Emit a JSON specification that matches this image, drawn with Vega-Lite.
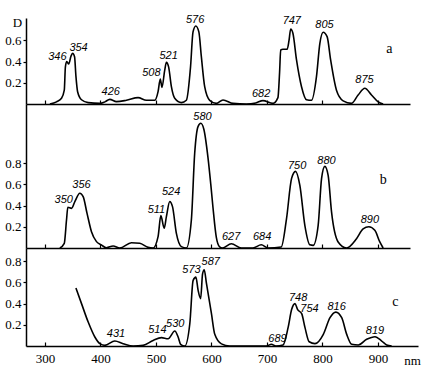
{
  "$schema": "https://vega.github.io/schema/vega-lite/v6.json",
  "autosize": {"type": "pad"},
  "padding": {"left": 4, "top": 14, "right": 5, "bottom": 5},
  "background": "white",
  "spacing": 0,
  "bounds": "flush",
  "config": {
    "view": {"stroke": null},
    "axis": {
      "labelFont": "Liberation Serif", "labelFontSize": 13, "labelColor": "black",
      "titleFont": "Liberation Serif", "titleFontSize": 13, "titleFontWeight": "normal", "titleColor": "black",
      "domainColor": "black", "domainWidth": 1.5, "tickColor": "black", "tickWidth": 1.2, "grid": false
    }
  },
  "datasets": {
    "spectra": [
      {"panel": "a", "nm": 309, "D": 0}, {"panel": "a", "nm": 321, "D": 0.02}, {"panel": "a", "nm": 330, "D": 0.054},
      {"panel": "a", "nm": 335, "D": 0.13}, {"panel": "a", "nm": 337, "D": 0.35}, {"panel": "a", "nm": 339.5, "D": 0.40},
      {"panel": "a", "nm": 343, "D": 0.377}, {"panel": "a", "nm": 347, "D": 0.45}, {"panel": "a", "nm": 350, "D": 0.478},
      {"panel": "a", "nm": 353.5, "D": 0.446}, {"panel": "a", "nm": 356, "D": 0.26}, {"panel": "a", "nm": 359, "D": 0.116},
      {"panel": "a", "nm": 366, "D": 0.04}, {"panel": "a", "nm": 378, "D": 0.013}, {"panel": "a", "nm": 399, "D": 0.006},
      {"panel": "a", "nm": 408, "D": 0.02}, {"panel": "a", "nm": 417, "D": 0.044}, {"panel": "a", "nm": 429, "D": 0.022},
      {"panel": "a", "nm": 447, "D": 0.035}, {"panel": "a", "nm": 468, "D": 0.06}, {"panel": "a", "nm": 483, "D": 0.035},
      {"panel": "a", "nm": 498, "D": 0.035}, {"panel": "a", "nm": 504, "D": 0.116}, {"panel": "a", "nm": 508, "D": 0.236},
      {"panel": "a", "nm": 511, "D": 0.157}, {"panel": "a", "nm": 516, "D": 0.32}, {"panel": "a", "nm": 519, "D": 0.393},
      {"panel": "a", "nm": 523, "D": 0.35}, {"panel": "a", "nm": 528, "D": 0.163}, {"panel": "a", "nm": 534, "D": 0.054},
      {"panel": "a", "nm": 546, "D": 0.013}, {"panel": "a", "nm": 555, "D": 0.035}, {"panel": "a", "nm": 562.5, "D": 0.35},
      {"panel": "a", "nm": 567, "D": 0.68}, {"panel": "a", "nm": 572, "D": 0.736}, {"panel": "a", "nm": 577.5, "D": 0.68},
      {"panel": "a", "nm": 582, "D": 0.446}, {"panel": "a", "nm": 588, "D": 0.163}, {"panel": "a", "nm": 597, "D": 0.035},
      {"panel": "a", "nm": 609, "D": 0.006}, {"panel": "a", "nm": 621, "D": 0.038}, {"panel": "a", "nm": 639, "D": 0.006},
      {"panel": "a", "nm": 663, "D": 0}, {"panel": "a", "nm": 680, "D": 0.01}, {"panel": "a", "nm": 693, "D": 0.032},
      {"panel": "a", "nm": 711, "D": 0.006}, {"panel": "a", "nm": 720, "D": 0.06}, {"panel": "a", "nm": 723, "D": 0.3},
      {"panel": "a", "nm": 725, "D": 0.51}, {"panel": "a", "nm": 729, "D": 0.516}, {"panel": "a", "nm": 736.6, "D": 0.516},
      {"panel": "a", "nm": 740, "D": 0.60}, {"panel": "a", "nm": 743, "D": 0.707}, {"panel": "a", "nm": 747, "D": 0.667},
      {"panel": "a", "nm": 753.5, "D": 0.415}, {"panel": "a", "nm": 762.5, "D": 0.163}, {"panel": "a", "nm": 771.5, "D": 0.04},
      {"panel": "a", "nm": 780.5, "D": 0.035}, {"panel": "a", "nm": 789.5, "D": 0.26}, {"panel": "a", "nm": 795.5, "D": 0.57},
      {"panel": "a", "nm": 801.5, "D": 0.676}, {"panel": "a", "nm": 808.6, "D": 0.635}, {"panel": "a", "nm": 815, "D": 0.415},
      {"panel": "a", "nm": 825.5, "D": 0.13}, {"panel": "a", "nm": 837.5, "D": 0.03}, {"panel": "a", "nm": 852.6, "D": 0.006},
      {"panel": "a", "nm": 864.5, "D": 0.085}, {"panel": "a", "nm": 876.6, "D": 0.148}, {"panel": "a", "nm": 888.6, "D": 0.085},
      {"panel": "a", "nm": 900.6, "D": 0.02}, {"panel": "a", "nm": 909.6, "D": 0},

      {"panel": "b", "nm": 327, "D": 0}, {"panel": "b", "nm": 335, "D": 0.044}, {"panel": "b", "nm": 339, "D": 0.264},
      {"panel": "b", "nm": 341.4, "D": 0.384}, {"panel": "b", "nm": 348, "D": 0.374}, {"panel": "b", "nm": 354, "D": 0.437},
      {"panel": "b", "nm": 363, "D": 0.516}, {"panel": "b", "nm": 369, "D": 0.484}, {"panel": "b", "nm": 376, "D": 0.327},
      {"panel": "b", "nm": 384, "D": 0.154}, {"panel": "b", "nm": 393, "D": 0.06}, {"panel": "b", "nm": 402, "D": 0.028},
      {"panel": "b", "nm": 411, "D": 0.003}, {"panel": "b", "nm": 423, "D": 0.019}, {"panel": "b", "nm": 435, "D": 0},
      {"panel": "b", "nm": 456, "D": 0.05}, {"panel": "b", "nm": 471, "D": 0.044}, {"panel": "b", "nm": 486, "D": 0.006},
      {"panel": "b", "nm": 495, "D": 0}, {"panel": "b", "nm": 504, "D": 0.107}, {"panel": "b", "nm": 509, "D": 0.305},
      {"panel": "b", "nm": 515, "D": 0.186}, {"panel": "b", "nm": 519, "D": 0.296}, {"panel": "b", "nm": 525, "D": 0.437},
      {"panel": "b", "nm": 530, "D": 0.39}, {"panel": "b", "nm": 537, "D": 0.138}, {"panel": "b", "nm": 546, "D": 0.013},
      {"panel": "b", "nm": 555, "D": 0}, {"panel": "b", "nm": 564, "D": 0.264}, {"panel": "b", "nm": 570, "D": 0.893},
      {"panel": "b", "nm": 576, "D": 1.145}, {"panel": "b", "nm": 581, "D": 1.176}, {"panel": "b", "nm": 586.5, "D": 1.12},
      {"panel": "b", "nm": 594, "D": 0.85}, {"panel": "b", "nm": 599, "D": 0.6}, {"panel": "b", "nm": 603, "D": 0.38},
      {"panel": "b", "nm": 609, "D": 0.1}, {"panel": "b", "nm": 615, "D": 0.01}, {"panel": "b", "nm": 620, "D": 0},
      {"panel": "b", "nm": 636, "D": 0.04}, {"panel": "b", "nm": 654, "D": 0}, {"panel": "b", "nm": 675, "D": 0},
      {"panel": "b", "nm": 690, "D": 0.03}, {"panel": "b", "nm": 702, "D": 0}, {"panel": "b", "nm": 726, "D": 0.01},
      {"panel": "b", "nm": 735.5, "D": 0.277}, {"panel": "b", "nm": 744.5, "D": 0.654}, {"panel": "b", "nm": 751.7, "D": 0.723},
      {"panel": "b", "nm": 759.5, "D": 0.59}, {"panel": "b", "nm": 768.5, "D": 0.214}, {"panel": "b", "nm": 777.5, "D": 0.03},
      {"panel": "b", "nm": 783.5, "D": 0.025}, {"panel": "b", "nm": 792.5, "D": 0.214}, {"panel": "b", "nm": 798.6, "D": 0.654},
      {"panel": "b", "nm": 804.5, "D": 0.77}, {"panel": "b", "nm": 810.5, "D": 0.685}, {"panel": "b", "nm": 816.6, "D": 0.34},
      {"panel": "b", "nm": 828.5, "D": 0.057}, {"panel": "b", "nm": 843.6, "D": 0}, {"panel": "b", "nm": 861.6, "D": 0.088},
      {"panel": "b", "nm": 873.5, "D": 0.18}, {"panel": "b", "nm": 883.8, "D": 0.2}, {"panel": "b", "nm": 894.6, "D": 0.167},
      {"panel": "b", "nm": 903.6, "D": 0.057}, {"panel": "b", "nm": 909.6, "D": 0},

      {"panel": "c", "nm": 356, "D": 0.547}, {"panel": "c", "nm": 366, "D": 0.40}, {"panel": "c", "nm": 378, "D": 0.226},
      {"panel": "c", "nm": 390, "D": 0.085}, {"panel": "c", "nm": 399, "D": 0.022}, {"panel": "c", "nm": 408, "D": 0.006},
      {"panel": "c", "nm": 426, "D": 0.047}, {"panel": "c", "nm": 441, "D": 0.022}, {"panel": "c", "nm": 459, "D": 0},
      {"panel": "c", "nm": 477, "D": 0.006}, {"panel": "c", "nm": 495, "D": 0.053}, {"panel": "c", "nm": 510, "D": 0.079},
      {"panel": "c", "nm": 522, "D": 0.069}, {"panel": "c", "nm": 534, "D": 0.142}, {"panel": "c", "nm": 540, "D": 0.085},
      {"panel": "c", "nm": 544.5, "D": 0.016}, {"panel": "c", "nm": 552, "D": 0}, {"panel": "c", "nm": 561, "D": 0.21},
      {"panel": "c", "nm": 567, "D": 0.62}, {"panel": "c", "nm": 572, "D": 0.65}, {"panel": "c", "nm": 576, "D": 0.525},
      {"panel": "c", "nm": 580.5, "D": 0.447}, {"panel": "c", "nm": 584, "D": 0.68}, {"panel": "c", "nm": 587, "D": 0.72},
      {"panel": "c", "nm": 591, "D": 0.59}, {"panel": "c", "nm": 600, "D": 0.305}, {"panel": "c", "nm": 606, "D": 0.11},
      {"panel": "c", "nm": 618, "D": 0.02}, {"panel": "c", "nm": 633, "D": 0}, {"panel": "c", "nm": 699, "D": 0},
      {"panel": "c", "nm": 708, "D": 0.016}, {"panel": "c", "nm": 716, "D": 0}, {"panel": "c", "nm": 729, "D": 0.01},
      {"panel": "c", "nm": 738, "D": 0.173}, {"panel": "c", "nm": 744.5, "D": 0.346}, {"panel": "c", "nm": 750.5, "D": 0.4},
      {"panel": "c", "nm": 755, "D": 0.346}, {"panel": "c", "nm": 762.5, "D": 0.305}, {"panel": "c", "nm": 768.5, "D": 0.173},
      {"panel": "c", "nm": 776, "D": 0.04}, {"panel": "c", "nm": 786.5, "D": 0.022}, {"panel": "c", "nm": 801.5, "D": 0.11},
      {"panel": "c", "nm": 813.5, "D": 0.267}, {"panel": "c", "nm": 824, "D": 0.32}, {"panel": "c", "nm": 834.6, "D": 0.267},
      {"panel": "c", "nm": 843.6, "D": 0.11}, {"panel": "c", "nm": 852.6, "D": 0.016}, {"panel": "c", "nm": 864.5, "D": 0.01},
      {"panel": "c", "nm": 879.6, "D": 0.063}, {"panel": "c", "nm": 894.6, "D": 0.088}, {"panel": "c", "nm": 906.7, "D": 0.047},
      {"panel": "c", "nm": 915.6, "D": 0.01}, {"panel": "c", "nm": 924.6, "D": 0}
    ],
    "labels": [
      {"panel": "a", "kind": "peak", "nm": 322.5, "D": 0.44, "label": "346"},
      {"panel": "a", "kind": "peak", "nm": 360.7, "D": 0.53, "label": "354"},
      {"panel": "a", "kind": "peak", "nm": 418.6, "D": 0.113, "label": "426"},
      {"panel": "a", "kind": "peak", "nm": 492, "D": 0.29, "label": "508"},
      {"panel": "a", "kind": "peak", "nm": 523, "D": 0.45, "label": "521"},
      {"panel": "a", "kind": "peak", "nm": 570.8, "D": 0.79, "label": "576"},
      {"panel": "a", "kind": "peak", "nm": 689.8, "D": 0.094, "label": "682"},
      {"panel": "a", "kind": "peak", "nm": 745, "D": 0.78, "label": "747"},
      {"panel": "a", "kind": "peak", "nm": 804, "D": 0.745, "label": "805"},
      {"panel": "a", "kind": "peak", "nm": 876, "D": 0.23, "label": "875"},
      {"panel": "a", "kind": "panel", "nm": 921, "D": 0.52, "label": "a"},
      {"panel": "b", "kind": "peak", "nm": 334, "D": 0.448, "label": "350"},
      {"panel": "b", "kind": "peak", "nm": 366, "D": 0.59, "label": "356"},
      {"panel": "b", "kind": "peak", "nm": 501, "D": 0.358, "label": "511"},
      {"panel": "b", "kind": "peak", "nm": 527.6, "D": 0.524, "label": "524"},
      {"panel": "b", "kind": "peak", "nm": 584, "D": 1.24, "label": "580"},
      {"panel": "b", "kind": "peak", "nm": 635.7, "D": 0.10, "label": "627"},
      {"panel": "b", "kind": "peak", "nm": 691.5, "D": 0.10, "label": "684"},
      {"panel": "b", "kind": "peak", "nm": 754.6, "D": 0.775, "label": "750"},
      {"panel": "b", "kind": "peak", "nm": 807.5, "D": 0.82, "label": "880"},
      {"panel": "b", "kind": "peak", "nm": 885.6, "D": 0.264, "label": "890"},
      {"panel": "b", "kind": "panel", "nm": 909.6, "D": 0.64, "label": "b"},
      {"panel": "c", "kind": "peak", "nm": 428, "D": 0.11, "label": "431"},
      {"panel": "c", "kind": "peak", "nm": 502.7, "D": 0.15, "label": "514"},
      {"panel": "c", "kind": "peak", "nm": 534.8, "D": 0.207, "label": "530"},
      {"panel": "c", "kind": "peak", "nm": 564, "D": 0.72, "label": "573"},
      {"panel": "c", "kind": "peak", "nm": 598.8, "D": 0.79, "label": "587"},
      {"panel": "c", "kind": "peak", "nm": 719, "D": 0.066, "label": "689"},
      {"panel": "c", "kind": "peak", "nm": 756, "D": 0.45, "label": "748"},
      {"panel": "c", "kind": "peak", "nm": 776.6, "D": 0.35, "label": "754"},
      {"panel": "c", "kind": "peak", "nm": 825.5, "D": 0.37, "label": "816"},
      {"panel": "c", "kind": "peak", "nm": 894.6, "D": 0.14, "label": "819"},
      {"panel": "c", "kind": "panel", "nm": 931, "D": 0.42, "label": "c"}
    ]
  },
  "vconcat": [
    {
      "width": 384, "height": 86,
      "encoding": {
        "x": {"field": "nm", "type": "quantitative", "scale": {"domain": [266, 958], "nice": false, "zero": false},
              "axis": {"values": [300, 400, 500, 600, 700, 800, 900], "labels": false, "tickSize": -4, "title": null}},
        "y": {"field": "D", "type": "quantitative", "scale": {"domain": [0, 0.811], "nice": false},
              "axis": {"values": [0.2, 0.4, 0.6], "tickSize": 3, "labelPadding": 2, "title": "D",
                       "titleAngle": 0, "titleX": -9, "titleY": 4, "titleAlign": "center", "titleBaseline": "middle"}}
      },
      "layer": [
        {"data": {"name": "spectra"}, "transform": [{"filter": "datum.panel == 'a'"}],
         "mark": {"type": "line", "interpolate": "monotone", "stroke": "black", "strokeWidth": 1.6}},
        {"data": {"name": "labels"}, "transform": [{"filter": "datum.panel == 'a' && datum.kind == 'peak'"}],
         "mark": {"type": "text", "font": "Liberation Sans Narrow, Liberation Sans", "fontStyle": "italic", "fontSize": 11, "color": "black", "align": "center", "baseline": "middle"},
         "encoding": {"text": {"field": "label"}}},
        {"data": {"name": "labels"}, "transform": [{"filter": "datum.panel == 'a' && datum.kind == 'panel'"}],
         "mark": {"type": "text", "font": "Liberation Serif", "fontSize": 14, "color": "black", "align": "center", "baseline": "middle"},
         "encoding": {"text": {"field": "label"}}}
      ]
    },
    {
      "width": 384, "height": 144,
      "encoding": {
        "x": {"field": "nm", "type": "quantitative", "scale": {"domain": [266, 958], "nice": false, "zero": false},
              "axis": {"values": [300, 400, 500, 600, 700, 800, 900], "labels": false, "tickSize": -4, "title": null}},
        "y": {"field": "D", "type": "quantitative", "scale": {"domain": [0, 1.358], "nice": false},
              "axis": {"values": [0.2, 0.4, 0.6, 0.8], "tickSize": 3, "labelPadding": 2, "title": null}}
      },
      "layer": [
        {"data": {"name": "spectra"}, "transform": [{"filter": "datum.panel == 'b'"}],
         "mark": {"type": "line", "interpolate": "monotone", "stroke": "black", "strokeWidth": 1.6}},
        {"data": {"name": "labels"}, "transform": [{"filter": "datum.panel == 'b' && datum.kind == 'peak'"}],
         "mark": {"type": "text", "font": "Liberation Sans Narrow, Liberation Sans", "fontStyle": "italic", "fontSize": 11, "color": "black", "align": "center", "baseline": "middle"},
         "encoding": {"text": {"field": "label"}}},
        {"data": {"name": "labels"}, "transform": [{"filter": "datum.panel == 'b' && datum.kind == 'panel'"}],
         "mark": {"type": "text", "font": "Liberation Serif", "fontSize": 14, "color": "black", "align": "center", "baseline": "middle"},
         "encoding": {"text": {"field": "label"}}}
      ]
    },
    {
      "width": 392, "height": 98,
      "encoding": {
        "x": {"field": "nm", "type": "quantitative", "scale": {"domain": [266, 972], "nice": false, "zero": false},
              "axis": {"values": [300, 400, 500, 600, 700, 800, 900], "tickSize": -4, "labelPadding": 10, "title": "nm",
                       "titleAngle": 0, "titleX": 386, "titleY": 14, "titleAlign": "center", "titleBaseline": "middle"}},
        "y": {"field": "D", "type": "quantitative", "scale": {"domain": [0, 0.925], "nice": false},
              "axis": {"values": [0.2, 0.4, 0.6, 0.8], "tickSize": 3, "labelPadding": 2, "title": null}}
      },
      "layer": [
        {"data": {"name": "spectra"}, "transform": [{"filter": "datum.panel == 'c'"}],
         "mark": {"type": "line", "interpolate": "monotone", "stroke": "black", "strokeWidth": 1.6}},
        {"data": {"name": "labels"}, "transform": [{"filter": "datum.panel == 'c' && datum.kind == 'peak'"}],
         "mark": {"type": "text", "font": "Liberation Sans Narrow, Liberation Sans", "fontStyle": "italic", "fontSize": 11, "color": "black", "align": "center", "baseline": "middle"},
         "encoding": {"text": {"field": "label"}}},
        {"data": {"name": "labels"}, "transform": [{"filter": "datum.panel == 'c' && datum.kind == 'panel'"}],
         "mark": {"type": "text", "font": "Liberation Serif", "fontSize": 14, "color": "black", "align": "center", "baseline": "middle"},
         "encoding": {"text": {"field": "label"}}}
      ]
    }
  ]
}
